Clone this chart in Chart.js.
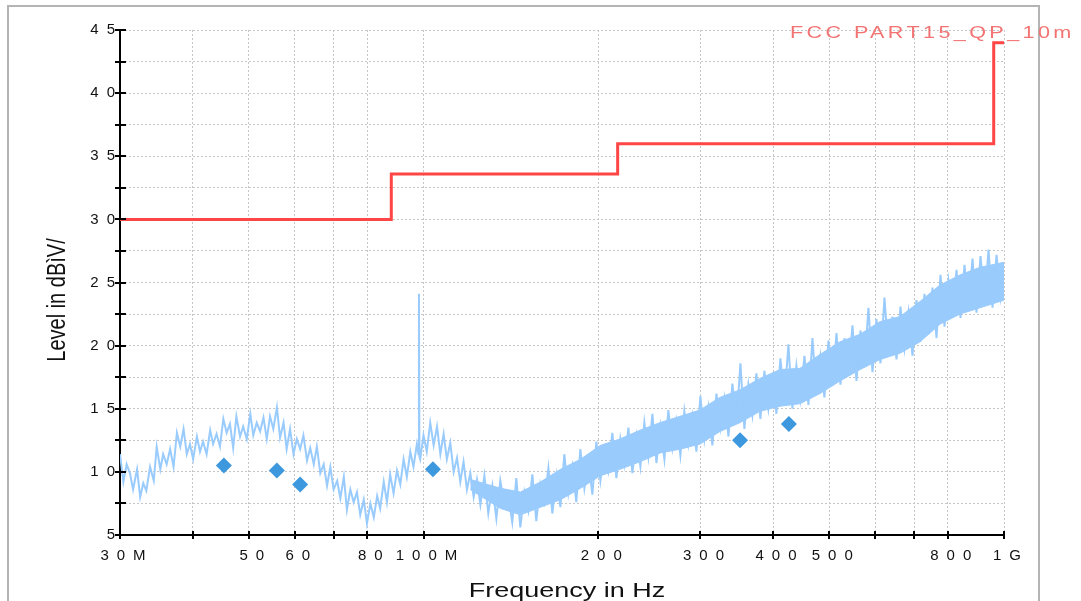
<!DOCTYPE html>
<html>
<head>
  <title>Radiated Emission Scan</title>
  <script src="https://cdn.jsdelivr.net/npm/chart.js"></script>
  <style>
    body { margin: 0; background: #fff; }
    #wrap { width: 1081px; height: 601px; }
  </style>
</head>
<body>
  <div id="wrap"><canvas id="scan" width="1081" height="601"></canvas></div>

  <script>
    // axis ticks (MHz)
    const xTickValues = [30, 40, 50, 60, 70, 80, 100, 200, 300, 400, 500, 600, 700, 800, 1000];
    const xTickLabels = ['30M', '', '50', '60', '', '80', '100M', '200', '300', '400', '500', '', '', '800', '1G'];
    const yMajorTicks = [5, 10, 15, 20, 25, 30, 35, 40, 45];

    const xTitle = 'Frequency in Hz';
    const yTitle = 'Level in dBìV/';

    // preview sweep, frequency in MHz / level in dB
    const traceFreq = [
      30.0, 30.4, 30.8, 31.2, 31.6, 32.1, 32.5, 32.9, 33.3, 33.8,
      34.3, 34.7, 35.2, 35.6, 36.1, 36.6, 37.1, 37.6, 38.1, 38.6,
      39.1, 39.6, 40.1, 40.7, 41.2, 41.7, 42.3, 42.9, 43.4, 44.0,
      44.6, 45.2, 45.8, 46.4, 47.0, 47.6, 48.3, 48.9, 49.6, 50.3,
      50.9, 51.6, 52.3, 53.0, 53.7, 54.4, 55.1, 55.9, 56.6, 57.4,
      58.1, 58.9, 59.7, 60.5, 61.3, 62.1, 63.0, 63.8, 64.7, 65.5,
      66.4, 67.3, 68.2, 69.1, 70.0, 71.0, 71.9, 72.9, 73.8, 74.8,
      75.8, 76.8, 77.8, 78.9, 79.9, 81.0, 82.1, 83.2, 84.2, 85.4,
      86.5, 87.6, 88.8, 90.0, 91.2, 92.4, 93.6, 94.9, 96.1, 97.4,
      98.0, 98.2, 98.4, 98.7, 100.0, 101.3, 102.7, 104.1, 105.5, 106.9,
      108.3, 109.7, 111.2, 112.7, 114.2, 115.7, 117.2, 118.8, 120.4, 122.0,
      123.6, 125.3,
      127.3, 129.3, 131.4, 133.5, 135.6, 137.8, 140.0, 142.2, 144.5, 146.8,
      149.2, 151.6, 154.0, 156.4, 158.9, 161.5, 164.1, 166.7, 169.4, 172.1,
      174.8, 177.6, 180.5, 183.3, 186.3, 189.3, 192.3, 195.4, 198.5, 201.7,
      204.9, 208.2, 211.5, 214.9, 218.3, 221.8, 225.4, 229.0, 232.6, 236.4,
      240.1, 244.0, 247.9, 251.9, 255.9, 260.0, 264.1, 268.4, 272.7, 277.0,
      281.4, 285.9, 290.5, 295.2, 299.9, 304.7, 309.6, 314.5, 319.6, 324.7,
      329.9, 335.2, 340.5, 346.0, 351.5, 357.1, 362.8, 368.6, 374.5, 380.5,
      386.6, 392.8, 399.1, 405.5, 411.9, 418.5, 425.2, 432.0, 438.9, 446.0,
      453.1, 460.4, 467.7, 475.2, 482.8, 490.5, 498.4, 506.4, 514.5, 522.7,
      531.1, 539.6, 548.2, 557.0, 565.9, 574.9, 584.1, 593.5, 603.0, 612.6,
      622.4, 632.4, 642.5, 652.8, 663.2, 673.8, 684.6, 695.6, 706.7, 718.0,
      729.5, 741.2, 753.0, 765.1, 777.3, 789.8, 802.4, 815.3, 828.3, 841.6,
      855.0, 868.7, 882.6, 896.7, 911.1, 925.7, 940.5, 955.5, 970.8, 986.3,
      1000
    ];
    const traceLevel = [
      11.4, 9.2, 10.6, 9.9, 8.6, 10.2, 8.0, 9.1, 8.5, 10.4,
      9.3, 12.0, 10.2, 11.4, 10.6, 11.8, 10.4, 13.1, 12.0, 13.4,
      11.4, 12.2, 11.0, 12.8, 11.6, 12.4, 11.4, 13.3, 12.2, 13.0,
      12.0, 14.2, 13.1, 13.8, 11.9, 14.4, 12.8, 13.6, 12.6, 14.6,
      12.9, 13.9, 13.2, 14.3, 12.6, 14.4, 13.4, 15.1, 12.7, 13.9,
      11.8, 13.4, 11.4, 12.6, 11.8, 12.9, 10.9, 11.9, 10.6, 12.0,
      9.9, 10.6, 8.9, 10.4, 8.6, 9.3, 7.9, 9.6, 7.0, 8.6,
      7.6, 8.4, 6.6, 7.8, 5.9, 7.5, 6.4, 8.1, 7.1, 9.2,
      7.6, 9.8, 8.3, 10.1, 9.0, 11.0, 9.6, 11.6, 10.4, 12.2,
      11.4, 24.1, 11.2, 11.0, 12.9, 11.6, 13.9, 12.1, 13.6, 11.4,
      13.0, 11.0, 12.3, 10.0, 11.1, 9.2, 10.8, 8.6, 9.9, 8.0,
      9.4, 7.4,
      9.7, 6.7, 8.9, 6.3, 9.3, 7.4, 8.1, 6.0, 9.5, 5.6,
      8.4, 6.9, 9.8, 6.1, 9.0, 7.6, 10.3, 6.7, 9.7, 7.2,
      11.4, 8.3, 10.4, 7.6, 11.8, 8.7, 10.9, 8.2, 12.4, 9.3,
      11.8, 10.1, 13.1, 9.5, 12.6, 10.6, 13.5, 9.9, 12.8, 10.4,
      13.9, 11.2, 14.6, 10.7, 13.6, 11.0, 14.9, 11.9, 14.0, 11.3,
      14.8, 12.2, 14.4, 11.6, 16.0, 12.6, 15.1, 12.1, 16.2, 13.5,
      15.8, 12.8, 17.0, 13.8, 18.6, 13.4, 16.9, 14.5, 17.8, 14.2,
      18.0, 15.0, 17.3, 14.6, 19.0, 15.6, 20.1, 15.0, 18.4, 15.8,
      19.2, 15.3, 20.6, 16.2, 19.1, 15.9, 20.4, 16.8, 21.0, 16.9,
      20.6, 17.6, 21.6, 17.2, 21.2, 18.3, 23.0, 17.9, 22.1, 18.6,
      23.8, 19.3, 22.3, 18.9, 23.1, 19.8, 22.6, 19.2, 23.6, 20.3,
      24.1, 20.9, 24.6, 20.6, 25.6, 21.5, 25.1, 22.3, 26.0, 22.2,
      26.4, 23.0, 26.9, 22.6, 27.1, 23.4, 27.6, 23.0, 27.2, 23.9,
      26.4
    ];

    // solid body of the sweep above ~120 MHz
    const bandFreq = [120.4, 135.7, 146.9, 159.0, 172.2, 186.4, 201.8, 217.9, 236.0, 255.5,
                      276.7, 299.4, 324.1, 350.9, 379.8, 411.2, 445.2, 481.9, 521.7, 564.8,
                      611.5, 662.0, 716.7, 775.9, 839.9, 909.3, 1000];
    const bandHigh = [9.4, 8.7, 8.4, 9.2, 10.2, 11.0, 12.1, 12.6, 13.3, 13.9,
                      14.4, 14.9, 15.9, 16.5, 17.4, 18.1, 18.2, 19.3, 20.3, 20.9,
                      21.9, 22.3, 23.5, 24.8, 25.6, 26.2, 26.6];
    const bandLow  = [8.6, 7.1, 6.6, 7.2, 7.8, 8.7, 9.7, 10.2, 10.8, 11.5,
                      11.8, 12.2, 13.2, 13.9, 14.8, 15.2, 15.4, 16.2, 17.2, 18.1,
                      18.9, 19.4, 20.3, 21.7, 22.5, 23.0, 23.6];

    // quasi-peak finals
    const markerFreq = [45.3, 55.9, 61.3, 103.8, 351, 426];
    const markerLevel = [10.5, 10.1, 9.0, 10.2, 12.5, 13.8];

    // limit line, each level holds until the next frequency
    const limitFreq = [30, 88, 216, 960, 1000];
    const limitLevel = [30, 33.6, 36, 44, 44];

    const pts = (xs, ys) => xs.map((x, i) => ({ x: x, y: ys[i] }));

    const TRACE = '#99cbfd';
    Chart.defaults.font.family = '"Liberation Sans", Arial, sans-serif';

    const decor = {
      id: 'decor',
      beforeDraw(chart) {
        const ctx = chart.ctx;
        ctx.letterSpacing = '0px';
        ctx.save();
        ctx.fillStyle = '#fff';
        ctx.fillRect(0, 0, chart.width, chart.height);
        ctx.strokeStyle = '#b4b4b4';
        ctx.lineWidth = 2;
        ctx.beginPath();
        ctx.moveTo(8, 601);
        ctx.lineTo(8, 6);
        ctx.lineTo(1039, 6);
        ctx.lineTo(1039, 601);
        ctx.stroke();
        ctx.restore();
      },
      afterDatasetsDraw(chart) {
        // wide spacing for the tick labels drawn next
        chart.ctx.letterSpacing = '8px';
      },
      afterDraw(chart) {
        const { ctx, chartArea: a, scales: { x, y } } = chart;
        ctx.letterSpacing = '0px';
        ctx.save();

        // tick marks crossing both axes
        ctx.strokeStyle = '#000';
        ctx.lineWidth = 2;
        ctx.beginPath();
        y.ticks.forEach(t => {
          const py = Math.round(y.getPixelForValue(t.value));
          ctx.moveTo(a.left - 5, py);
          ctx.lineTo(a.left + 6, py);
        });
        x.ticks.forEach(t => {
          const px = Math.round(x.getPixelForValue(t.value));
          ctx.moveTo(px, a.bottom - 4);
          ctx.lineTo(px, a.bottom + 4);
        });
        ctx.stroke();

        ctx.fillStyle = '#111';
        ctx.textBaseline = 'alphabetic';

        // x title
        ctx.save();
        ctx.font = '20px "Liberation Sans", Arial, sans-serif';
        ctx.textAlign = 'center';
        ctx.translate((a.left + a.right) / 2 + 5, 597);
        ctx.scale(1.35, 1);
        ctx.fillText(xTitle, 0, 0);
        ctx.restore();

        // y title
        ctx.save();
        ctx.font = '20px "Liberation Sans", Arial, sans-serif';
        ctx.textAlign = 'center';
        ctx.translate(65, 300);
        ctx.scale(1.25, 1);
        ctx.rotate(-Math.PI / 2);
        ctx.fillText(yTitle, 0, 0);
        ctx.restore();

        // limit name at the top right
        ctx.save();
        ctx.font = '16px "Liberation Sans", Arial, sans-serif';
        ctx.fillStyle = '#f37373';
        ctx.textAlign = 'left';
        ctx.letterSpacing = '2.5px';
        ctx.translate(a.right - 214, 38);
        ctx.scale(1.35, 1);
        ctx.fillText(chart.data.datasets[1].label, 0, 0);
        ctx.restore();

        ctx.restore();
      }
    };

    const gridOpts = { color: '#c6c6c6', lineWidth: 1, drawTicks: false };
    const borderOpts = { color: '#000', width: 2, dash: [2, 2] };
    const tickFont = { size: 15 };

    new Chart(document.getElementById('scan'), {
      type: 'line',
      data: {
        datasets: [
          {
            label: 'Final QP',
            data: pts(markerFreq, markerLevel),
            showLine: false,
            pointStyle: 'rectRot',
            pointRadius: 8,
            pointBackgroundColor: '#3d98de',
            pointBorderWidth: 0,
            order: 0
          },
          {
            label: 'FCC PART15_QP_10m',
            data: pts(limitFreq, limitLevel),
            stepped: 'before',
            borderColor: '#ff4646',
            borderWidth: 3,
            pointRadius: 0,
            order: 1
          },
          {
            label: 'Preview',
            data: pts(traceFreq, traceLevel),
            borderColor: TRACE,
            borderWidth: 2,
            pointRadius: 0,
            tension: 0,
            order: 2
          },
          {
            label: 'band high',
            data: pts(bandFreq, bandHigh),
            borderColor: TRACE,
            borderWidth: 1,
            backgroundColor: TRACE,
            fill: '+1',
            pointRadius: 0,
            order: 3
          },
          {
            label: 'band low',
            data: pts(bandFreq, bandLow),
            borderColor: TRACE,
            borderWidth: 1,
            pointRadius: 0,
            fill: false,
            order: 4
          }
        ]
      },
      options: {
        responsive: false,
        devicePixelRatio: 1,
        animation: false,
        events: [],
        layout: { padding: { top: 30, right: 77, left: 0, bottom: 0 } },
        plugins: { legend: { display: false }, tooltip: { enabled: false } },
        scales: {
          x: {
            type: 'logarithmic',
            min: 30,
            max: 1000,
            afterBuildTicks: s => { s.ticks = xTickValues.map(v => ({ value: v })); },
            afterFit: s => { s.height = 66; },
            grid: gridOpts,
            border: borderOpts,
            ticks: {
              autoSkip: false,
              maxRotation: 0,
              padding: 12,
              labelOffset: 7,
              z: 1,
              color: '#111',
              font: tickFont,
              callback: v => {
                const i = xTickValues.indexOf(v);
                return i < 0 ? '' : xTickLabels[i];
              }
            }
          },
          y: {
            min: 5,
            max: 45,
            afterFit: s => { s.width = 120; },
            grid: gridOpts,
            border: borderOpts,
            ticks: {
              stepSize: 2.5,
              autoSkip: false,
              padding: -3,
              z: 1,
              color: '#111',
              font: tickFont,
              callback: v => yMajorTicks.includes(v) ? String(v) : ''
            }
          }
        }
      },
      plugins: [decor]
    });
  </script>
</body>
</html>
